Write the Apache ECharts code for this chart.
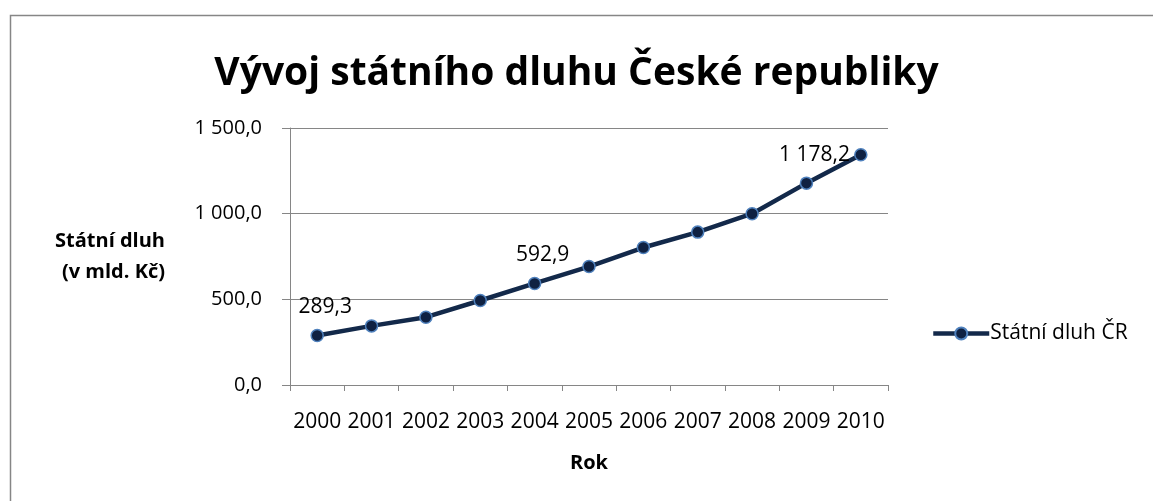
<!DOCTYPE html>
<html>
<head>
<meta charset="utf-8">
<script src="https://cdn.jsdelivr.net/npm/echarts@6/dist/echarts.min.js"></script>
<style>
  html, body { margin: 0; padding: 0; background: #fff; }
  #chart { width: 1153px; height: 501px; }
</style>
</head>
<body>
<div id="chart"></div>
<script>
// data
const years = ['2000', '2001', '2002', '2003', '2004', '2005', '2006', '2007', '2008', '2009', '2010']
const debt = [289.3, 345.0, 395.9, 493.2, 592.9, 691.2, 802.5, 892.3, 999.8, 1178.2, 1344.1]
const labelledYears = ['2000', '2004', '2009']

const font = 'Open Sans'
const gray = '#868686'

// 1 178,2 style
const fmt = (v) => {
  const parts = Number(v).toFixed(1).split('.')
  const int = parts[0].replace(/\B(?=(\d{3})+(?!\d))/g, ' ')
  return int + ',' + parts[1]
}

const chart = echarts.init(document.getElementById('chart'))
chart.setOption({
  animation: false,
  backgroundColor: '#fff',
  textStyle: { fontFamily: font },
  graphic: [
    {
      type: 'rect',
      shape: { x: 10.5, y: 15.5, width: 1200, height: 600 },
      style: { fill: 'none', stroke: gray, lineWidth: 1.5 },
      silent: true
    }
  ],
  title: {
    text: 'Vývoj státního dluhu České republiky',
    left: 'center',
    top: 49,
    textStyle: { fontFamily: font, fontWeight: 'bold', fontSize: 39, color: '#000' }
  },
  legend: {
    left: 926,
    top: 318,
    itemWidth: 56,
    itemHeight: 15,
    itemGap: 0,
    lineStyle: { width: 4.5 },
    textStyle: { fontFamily: font, fontSize: 21, color: '#000', padding: [0, 0, 0, -4] },
    data: ['Státní dluh ČR']
  },
  grid: { left: 290, right: 265, top: 128, bottom: 116 },
  xAxis: {
    type: 'category',
    data: years,
    boundaryGap: true,
    name: 'Rok',
    nameLocation: 'middle',
    nameGap: 68,
    nameTextStyle: { fontFamily: font, fontWeight: 'bold', fontSize: 20, color: '#000' },
    axisLine: { lineStyle: { color: gray, width: 1 } },
    axisTick: { show: true, interval: 0, length: 6, alignWithLabel: false, lineStyle: { color: gray } },
    axisLabel: { interval: 0, margin: 27, fontFamily: font, fontSize: 21, color: '#000' }
  },
  yAxis: {
    type: 'value',
    min: 0,
    max: 1500,
    interval: 500,
    name: 'Státní dluh\n(v mld. Kč)',
    nameLocation: 'middle',
    nameRotate: 0,
    nameGap: 125,
    nameTextStyle: { fontFamily: font, fontWeight: 'bold', fontSize: 20, color: '#000', lineHeight: 31, align: 'right' },
    axisLine: { show: true, lineStyle: { color: gray, width: 1 } },
    axisTick: { show: true, length: 8, lineStyle: { color: gray } },
    axisLabel: { margin: 28, fontFamily: font, fontSize: 20, color: '#000', formatter: fmt },
    splitLine: { lineStyle: { color: gray, width: 1 } }
  },
  series: [
    {
      name: 'Státní dluh ČR',
      type: 'line',
      data: debt.map((v, i) => ({
        value: v,
        label: { show: labelledYears.includes(years[i]) }
      })),
      symbol: 'circle',
      symbolSize: 12,
      lineStyle: { color: '#13294a', width: 4.5 },
      itemStyle: { color: '#0f2142', borderColor: '#4f81bd', borderWidth: 1.5 },
      label: {
        position: 'top',
        distance: 11,
        offset: [8, 0],
        fontFamily: font,
        fontSize: 21,
        color: '#000',
        formatter: (p) => fmt(p.value)
      }
    }
  ]
})
</script>
</body>
</html>
